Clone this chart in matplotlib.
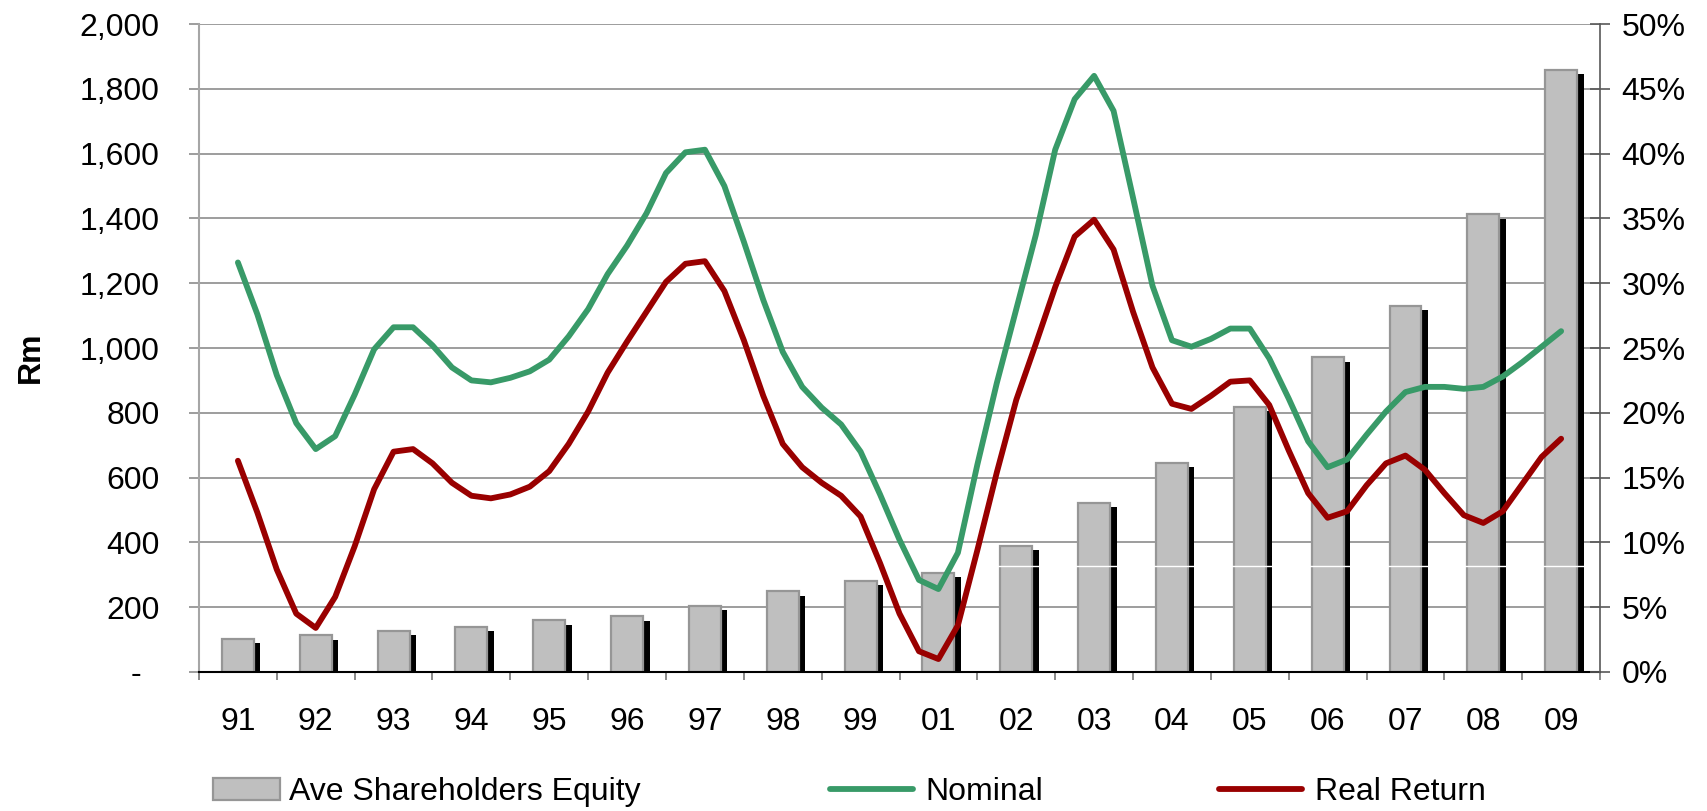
import numpy as np
import matplotlib
matplotlib.use("Agg")
import matplotlib.pyplot as plt
import matplotlib.patches as mpatches
from matplotlib import patheffects as pe
from matplotlib.ticker import FuncFormatter, MultipleLocator

plt.rcParams['font.family'] = ['Liberation Sans', 'DejaVu Sans']
plt.rcParams['font.size'] = 23

# data
years = ['91', '92', '93', '94', '95', '96', '97', '98', '99',
         '01', '02', '03', '04', '05', '06', '07', '08', '09']
equity = [102, 114, 127, 140, 160, 172, 205, 249, 281,
          306, 389, 523, 645, 818, 971, 1131, 1413, 1858]

# returns in %, quarterly readings from 91 to 09
nominal = [31.6, 27.6, 22.9, 19.2, 17.2, 18.2, 21.4, 24.9,
           26.6, 26.6, 25.2, 23.5, 22.5, 22.35, 22.7, 23.2,
           24.1, 25.9, 28.0, 30.7, 32.9, 35.4, 38.5, 40.1,
           40.3, 37.5, 33.2, 28.7, 24.7, 22.0, 20.4, 19.1,
           17.0, 13.7, 10.2, 7.1, 6.4, 9.2, 16.0, 22.3,
           28.0, 33.7, 40.3, 44.2, 46.0, 43.3, 36.6, 29.8,
           25.6, 25.1, 25.7, 26.5, 26.5, 24.2, 21.1, 17.8,
           15.8, 16.4, 18.3, 20.1, 21.6, 22.0, 22.0, 21.85,
           22.0, 22.8, 23.9, 25.1, 26.3]
real_return = [16.3, 12.3, 7.9, 4.5, 3.4, 5.8, 9.7, 14.1,
               17.0, 17.2, 16.1, 14.6, 13.6, 13.4, 13.7, 14.3,
               15.5, 17.6, 20.1, 23.1, 25.5, 27.8, 30.1, 31.5,
               31.7, 29.4, 25.6, 21.3, 17.6, 15.8, 14.6, 13.6,
               12.0, 8.4, 4.5, 1.6, 1.0, 3.6, 9.4, 15.4,
               21.0, 25.3, 29.7, 33.6, 34.9, 32.6, 27.8, 23.5,
               20.7, 20.3, 21.3, 22.4, 22.5, 20.6, 17.1, 13.8,
               11.9, 12.4, 14.4, 16.1, 16.7, 15.6, 13.8, 12.1,
               11.5, 12.4, 14.5, 16.6, 18.0]

x = np.arange(len(years))
tq = np.linspace(0, len(years) - 1, len(nominal))

fig = plt.figure(figsize=(17.08, 8.11), dpi=100)
ax = fig.add_axes([0.1165, 0.1714, 0.8203, 0.799])

# grey columns with a solid black drop shadow
shadow = [pe.SimplePatchShadow(offset=(4.7, -3.2), shadow_rgbFace='black',
                               alpha=1.0, linewidth=0), pe.Normal()]
bars = ax.bar(x, equity, width=0.41, color='#BFBFBF', edgecolor='#969696',
              linewidth=1.6, zorder=2)
for b in bars:
    b.set_path_effects(shadow)
ax.axhline(328, color='white', lw=1, zorder=2.1)

ax.set_xlim(-0.5, len(years) - 0.5)
ax.set_ylim(0, 2000)
ax.yaxis.set_major_locator(MultipleLocator(200))
ax.yaxis.set_major_formatter(FuncFormatter(
    lambda v, p: '-  ' if v == 0 else f'{v:,.0f}'))
ax.yaxis.grid(True, color='#8C8C8C', lw=1.2)
ax.set_axisbelow(True)

ax.set_xticks(np.arange(-0.5, len(years), 1))
ax.set_xticklabels([])
ax.set_xticks(x, minor=True)
ax.set_xticklabels(years, minor=True)
ax.tick_params(axis='x', which='major', length=5.5, width=1.3,
               color='#808080', direction='out')
ax.tick_params(axis='x', which='minor', length=0, pad=25)
ax.tick_params(axis='y', length=7.5, width=1.2, color='#8C8C8C', pad=21)

ax.spines['top'].set_visible(False)
ax.spines['right'].set_visible(False)
ax.spines['left'].set_color('#A6A6A6')
ax.spines['left'].set_linewidth(1.5)
ax.spines['bottom'].set_color('black')
ax.spines['bottom'].set_linewidth(1.5)

ax.set_ylabel('Rm', fontweight='bold', fontsize=23)
ax.yaxis.set_label_coords(-0.1095, 0.486)

# return lines on the right axis
ax2 = ax.twinx()
l1, = ax2.plot(tq, nominal, color='#389A68', lw=4.2, solid_capstyle='round',
               solid_joinstyle='round', zorder=3)
l2, = ax2.plot(tq, real_return, color='#990000', lw=4.2, solid_capstyle='round',
               solid_joinstyle='round', zorder=3)
ax2.set_ylim(0, 50)
ax2.yaxis.set_major_locator(MultipleLocator(5))
ax2.yaxis.set_major_formatter(FuncFormatter(lambda v, p: f'{v:.0f}%'))
ax2.tick_params(axis='y', direction='inout', length=15, width=1.2,
                color='#595959', pad=8)
for s in ['top', 'left', 'bottom']:
    ax2.spines[s].set_visible(False)
ax2.spines['right'].set_color('#595959')
ax2.spines['right'].set_linewidth(1.2)

# legend along the bottom: the column entry and the two lines
equity_patch = mpatches.Patch(facecolor='#BFBFBF', edgecolor='#969696',
                              linewidth=1.6)
leg1 = fig.legend([equity_patch], ['Ave Shareholders Equity'],
                  loc='center left', bbox_to_anchor=(213 / 1708, 1 - 792 / 811),
                  frameon=False, borderpad=0, borderaxespad=0,
                  handlelength=2.1, handleheight=0.7, handletextpad=0.28,
                  fontsize=23)
fig.legend([l1, l2], ['Nominal', 'Real Return'],
           loc='center left', bbox_to_anchor=(830 / 1708, 1 - 792 / 811),
           ncol=2, frameon=False, borderpad=0, borderaxespad=0,
           handlelength=2.6, handletextpad=0.4, columnspacing=5.5,
           fontsize=23)

fig.savefig('out.png', dpi=100)
